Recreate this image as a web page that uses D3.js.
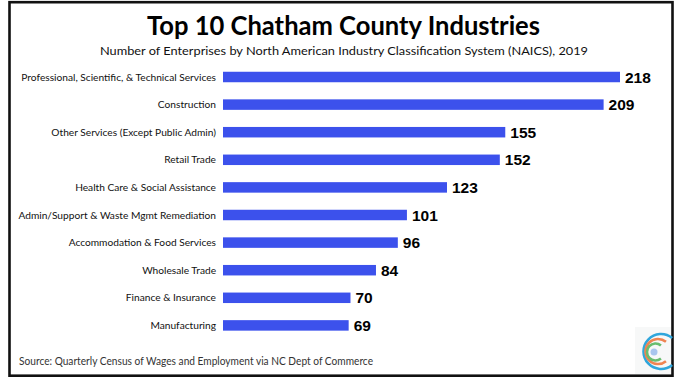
<!DOCTYPE html>
<html>
<head>
<meta charset="utf-8">
<script src="https://cdn.jsdelivr.net/npm/d3@7"></script>
<style>
  body { margin: 0; background: #fff; }
  svg text { font-family: Lato, "Open Sans", sans-serif; }
</style>
</head>
<body>
<div id="chart"></div>
<script>
// chart data
var industries = [
    "Professional, Scientific, & Technical Services",
    "Construction",
    "Other Services (Except Public Admin)",
    "Retail Trade",
    "Health Care & Social Assistance",
    "Admin/Support & Waste Mgmt Remediation",
    "Accommodation & Food Services",
    "Wholesale Trade",
    "Finance & Insurance",
    "Manufacturing"
];
var enterprises = [218, 209, 155, 152, 123, 101, 96, 84, 70, 69];

var titleText = "Top 10 Chatham County Industries";
var subtitleText = "Number of Enterprises by North American Industry Classification System (NAICS), 2019";
var sourceText = "Source: Quarterly Census of Wages and Employment via NC Dept of Commerce";

var width = 683;
var height = 378;
var barColor = "#3c51ec";

var svg = d3.select("#chart")
    .append("svg")
    .attr("width", width)
    .attr("height", height);

// frame round the whole graphic
svg.append("rect")
    .attr("x", 9.5)
    .attr("y", 2.2)
    .attr("width", 663)
    .attr("height", 373.5)
    .attr("fill", "#fff")
    .attr("stroke", "#111")
    .attr("stroke-width", 2.6);

svg.append("text")
    .attr("x", 147)
    .attr("y", 35)
    .attr("textLength", 393)
    .attr("lengthAdjust", "spacingAndGlyphs")
    .style("font-size", "26px")
    .style("font-weight", "bold")
    .attr("fill", "#000")
    .text(titleText);

svg.append("text")
    .attr("x", 100)
    .attr("y", 54.5)
    .attr("textLength", 488)
    .attr("lengthAdjust", "spacingAndGlyphs")
    .style("font-size", "12px")
    .attr("fill", "#111")
    .text(subtitleText);

var x = d3.scaleLinear()
    .domain([0, 218])
    .range([223, 620]);

var y = d3.scaleBand()
    .domain(industries)
    .range([63.2, 339.2])
    .paddingInner(0.62)
    .paddingOuter(0.31);

var rows = svg.append("g")
    .attr("class", "bars")
  .selectAll("g")
    .data(industries)
  .enter().append("g");

rows.append("rect")
    .attr("x", x(0))
    .attr("y", function(d){ return y(d); })
    .attr("width", function(d, i){ return x(enterprises[i]) - x(0); })
    .attr("height", y.bandwidth())
    .attr("fill", barColor);

rows.append("text")
    .attr("class", "cat")
    .attr("x", 216)
    .attr("y", function(d){ return y(d) + y.bandwidth() / 2 + 3.6; })
    .attr("text-anchor", "end")
    .style("font-size", "10.5px")
    .attr("fill", "#111")
    .text(function(d){ return d; });

rows.append("text")
    .attr("x", function(d, i){ return x(enterprises[i]) + 5; })
    .attr("y", function(d){ return y(d) + y.bandwidth() / 2 + 5.6; })
    .style("font-family", "'Liberation Sans', Arial, sans-serif")
    .style("font-size", "15.5px")
    .style("font-weight", "bold")
    .attr("fill", "#000")
    .text(function(d, i){ return enterprises[i]; });

// fit the category labels so the longest one is as wide as in the picture
var longest = svg.select("text.cat").node().getComputedTextLength();
var labelSize = 10.5 * 195 / longest;
svg.selectAll("text.cat").style("font-size", labelSize + "px");

svg.append("text")
    .attr("x", 19)
    .attr("y", 365)
    .attr("textLength", 354)
    .attr("lengthAdjust", "spacingAndGlyphs")
    .style("font-size", "10.5px")
    .attr("fill", "#333")
    .text(sourceText);

// small logo, nested C shapes opening to the right
var logo = svg.append("g")
    .attr("class", "logo");

logo.append("rect")
    .attr("x", 635)
    .attr("y", 327)
    .attr("width", 36)
    .attr("height", 47)
    .attr("fill", "#f7f8f8");

var arcs = [
    {cx: 661, cy: 351.5, r: 17.5, color: "#2fa6dc"},
    {cx: 658, cy: 351.5, r: 12.5, color: "#ef8452"},
    {cx: 655.5, cy: 352, r: 8.5, color: "#69bd6e"}
];
var arc = d3.arc();

logo.selectAll("path")
    .data(arcs)
  .enter().append("path")
    .attr("transform", function(d){ return "translate(" + d.cx + "," + d.cy + ")"; })
    .attr("d", function(d){
        return arc({innerRadius: d.r - 1.3, outerRadius: d.r + 1.3,
            startAngle: Math.PI * 0.78, endAngle: Math.PI * 2.22});
    })
    .attr("fill", function(d){ return d.color; });

logo.append("circle")
    .attr("cx", 654)
    .attr("cy", 352)
    .attr("r", 3.5)
    .attr("fill", "#a9c6ee");
</script>
</body>
</html>
